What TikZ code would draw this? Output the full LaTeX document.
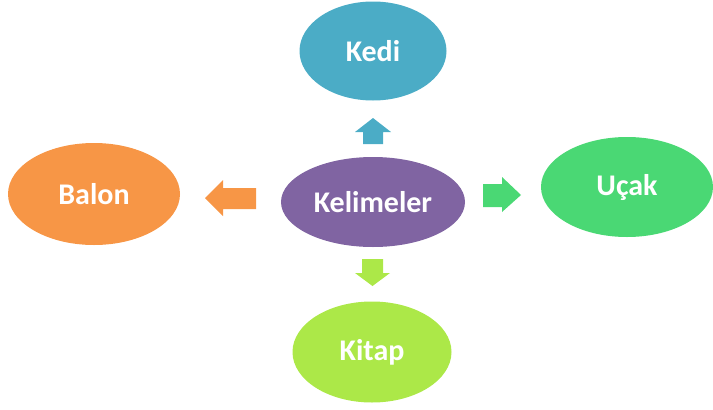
\documentclass[tikz,border=0pt]{standalone}
\usepackage{fontspec}
\setmainfont{Carlito}
\usetikzlibrary{shapes.geometric}

\definecolor{kedicolor}{RGB}{75,172,198}
\definecolor{merkezcolor}{RGB}{128,100,162}
\definecolor{baloncolor}{RGB}{247,150,70}
\definecolor{ucakcolor}{RGB}{74,216,116}
\definecolor{kitapcolor}{RGB}{172,232,72}

\tikzset{
  word/.style={ellipse, inner sep=0pt, text=white,
    font=\bfseries\fontsize{30}{36}\selectfont},
}

\begin{document}
\begin{tikzpicture}[x=1pt,y=-1pt]
    \useasboundingbox (0,0) rectangle (713,410);

    % Center word
    \node[word, fill=merkezcolor, minimum width=184pt, minimum height=90pt] (kelimeler) at (373,202) {Kelimeler};

    % Outer words
    \node[word, fill=kedicolor, minimum width=147pt, minimum height=99pt] (kedi) at (373,51) {Kedi};
    \node[word, fill=baloncolor, minimum width=172pt, minimum height=102pt] (balon) at (94,194) {Balon};
    \node[word, fill=ucakcolor, minimum width=172pt, minimum height=100pt] (ucak) at (627,187) {Uçak};
    \node[word, fill=kitapcolor, minimum width=159pt, minimum height=101pt] (kitap) at (372,352) {Kitap};

    % Block arrows
    \fill[kedicolor] (363,144) -- (363,132) -- (355,132) -- (373,118) -- (391,132) -- (383,132) -- (383,144) -- cycle;
    \fill[baloncolor] (256,188) -- (223,188) -- (223,180) -- (205,198) -- (223,216) -- (223,209) -- (256,209) -- cycle;
    \fill[ucakcolor] (483,184) -- (502,184) -- (502,177) -- (521,195) -- (502,212) -- (502,207) -- (483,207) -- cycle;
    \fill[kitapcolor] (362,259) -- (362,273) -- (355,273) -- (372.5,286) -- (390,273) -- (383,273) -- (383,259) -- cycle;
\end{tikzpicture}
\end{document}
